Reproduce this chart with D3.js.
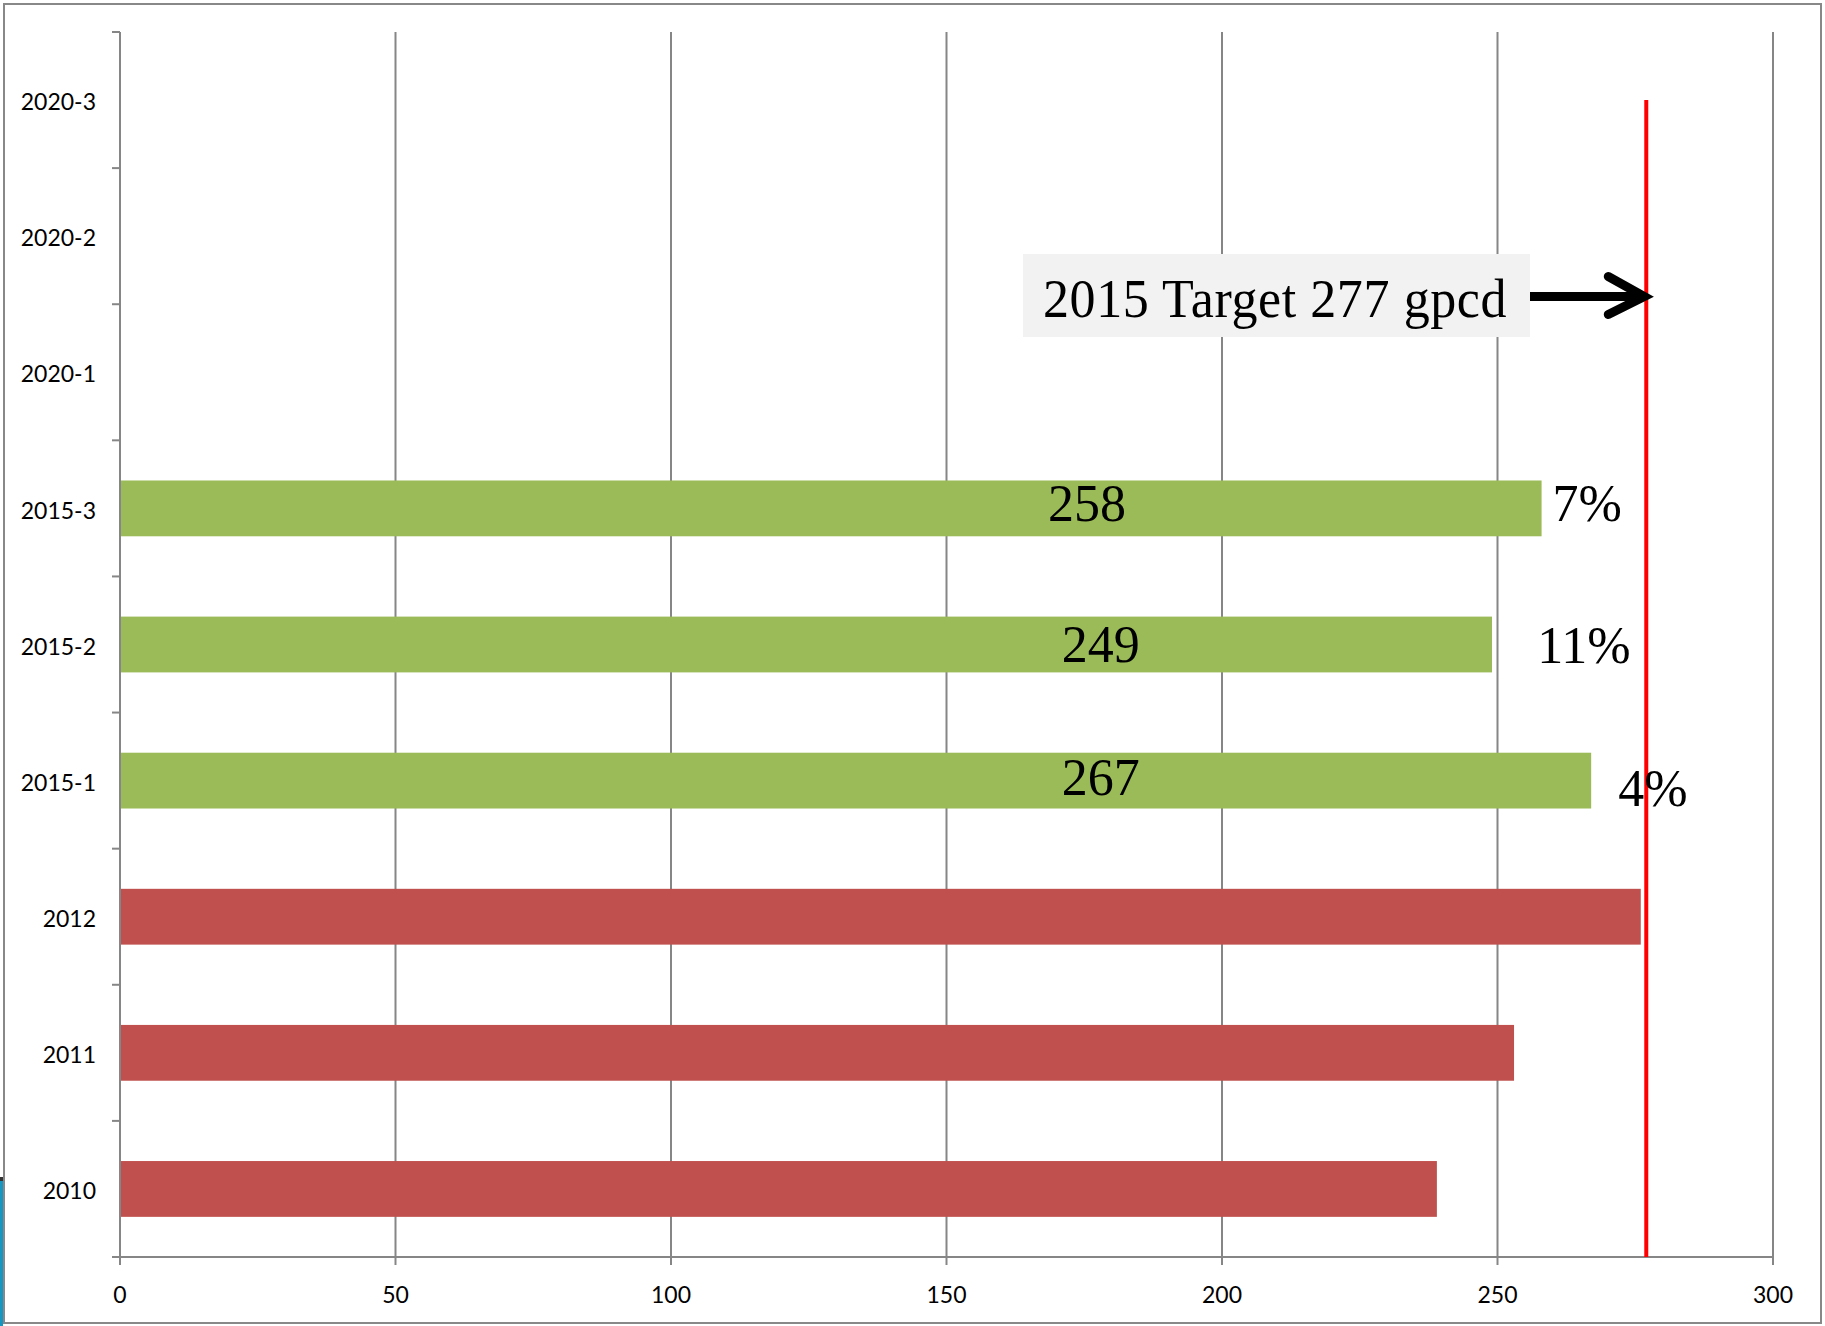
<!DOCTYPE html>
<html>
<head>
<meta charset="utf-8">
<script src="https://cdn.jsdelivr.net/npm/d3@7"></script>
<style>
  html, body { margin: 0; padding: 0; background: #fff; }
  svg { display: block; }
</style>
</head>
<body>
<script>
// ---- data ----
const categories = ["2020-3", "2020-2", "2020-1", "2015-3", "2015-2", "2015-1", "2012", "2011", "2010"];
const values     = [null, null, null, 258, 249, 267, 276, 253, 239];
const seriesGroup = ["future", "future", "future", "target", "target", "target", "actual", "actual", "actual"];
const valueLabels = [null, null, null, "258", "249", "267", null, null, null];
const pctLabels   = [null, null, null, "7%", "11%", "4%", null, null, null];
const xTicks = [0, 50, 100, 150, 200, 250, 300];
const targetValue = 277;
const targetText = "2015 Target 277 gpcd";

// ---- layout ----
const W = 1825, H = 1326;
const plot = { left: 120, right: 1773, top: 32, bottom: 1257 };
const colors = { target: "#9BBB59", actual: "#C0504D", future: "none" };
const gridColor = "#868686";

const svg = d3.select("body").append("svg").attr("width", W).attr("height", H);

// outer frame
svg.append("rect").attr("x", 4).attr("y", 4).attr("width", W - 8).attr("height", H - 7)
  .attr("fill", "#fff").attr("stroke", "#888").attr("stroke-width", 2);
// small teal artifact at bottom-left edge
svg.append("rect").attr("x", 0).attr("y", 1177).attr("width", 3).attr("height", H - 1177).attr("fill", "#1597c2");
svg.append("rect").attr("x", 0).attr("y", 1177).attr("width", 3).attr("height", 4).attr("fill", "#333");

const x = d3.scaleLinear().domain([0, 300]).range([plot.left, plot.right]);
const y = d3.scaleBand().domain(categories).range([plot.top, plot.bottom])
  .paddingInner(0.59).paddingOuter(0.295);
const step = y.step();

// vertical gridlines
svg.append("g").selectAll("line").data(xTicks.filter(d => d > 0)).join("line")
  .attr("x1", d => x(d)).attr("x2", d => x(d))
  .attr("y1", plot.top).attr("y2", plot.bottom)
  .attr("stroke", gridColor).attr("stroke-width", 2);

// bars
const rows = categories.map((c, i) => ({ c, v: values[i], g: seriesGroup[i], vl: valueLabels[i], pl: pctLabels[i] }));
svg.append("g").selectAll("rect").data(rows.filter(d => d.v != null)).join("rect")
  .attr("x", x(0) + 1)
  .attr("y", d => y(d.c))
  .attr("width", d => x(d.v) - x(0) - 1)
  .attr("height", y.bandwidth())
  .attr("fill", d => colors[d.g]);

// y axis line and ticks (ticks at band boundaries)
const yAxisG = svg.append("g");
yAxisG.append("line").attr("x1", x(0)).attr("x2", x(0)).attr("y1", plot.top).attr("y2", plot.bottom)
  .attr("stroke", gridColor).attr("stroke-width", 2);
yAxisG.selectAll("line.tk").data(d3.range(categories.length + 1)).join("line").attr("class", "tk")
  .attr("x1", x(0) - 8).attr("x2", x(0))
  .attr("y1", i => plot.top + i * step).attr("y2", i => plot.top + i * step)
  .attr("stroke", gridColor).attr("stroke-width", 2);
yAxisG.selectAll("text").data(categories).join("text")
  .attr("x", 96)
  .attr("y", c => y(c) + y.bandwidth() / 2)
  .attr("dy", "0.44em")
  .attr("text-anchor", "end")
  .attr("font-family", "Lato, 'Open Sans', sans-serif")
  .attr("font-size", 23)
  .attr("fill", "#000")
  .text(c => c);

// x axis
const xAxisG = svg.append("g");
xAxisG.append("line").attr("x1", x(0) - 8).attr("x2", x(300)).attr("y1", plot.bottom).attr("y2", plot.bottom)
  .attr("stroke", gridColor).attr("stroke-width", 2);
xAxisG.selectAll("line.tk").data(xTicks).join("line").attr("class", "tk")
  .attr("x1", d => x(d)).attr("x2", d => x(d))
  .attr("y1", plot.bottom).attr("y2", plot.bottom + 8)
  .attr("stroke", gridColor).attr("stroke-width", 2);
xAxisG.selectAll("text").data(xTicks).join("text")
  .attr("x", d => x(d))
  .attr("y", 1303)
  .attr("text-anchor", "middle")
  .attr("font-family", "Lato, 'Open Sans', sans-serif")
  .attr("font-size", 23)
  .attr("fill", "#000")
  .text(d => d);

// target red line
svg.append("line")
  .attr("x1", x(targetValue)).attr("x2", x(targetValue))
  .attr("y1", y(categories[0]) + y.bandwidth() / 2).attr("y2", plot.bottom)
  .attr("stroke", "#FF0000").attr("stroke-width", 4);

// value labels inside bars and percentages (annotation placement)
const serif = "'Liberation Serif', 'Times New Roman', serif";
const valueLabelLayout = { "258": [175.5, 12.5], "249": [178, 17.5], "267": [178, 14] };
const pctLabelLayout = { "7%": [260, 12.5], "11%": [257.2, 18], "4%": [271.9, 25] };
const center = c => y(c) + y.bandwidth() / 2;

svg.append("g").selectAll("text").data(rows.filter(d => d.vl)).join("text")
  .attr("x", d => x(valueLabelLayout[d.vl][0]))
  .attr("y", d => center(d.c) + valueLabelLayout[d.vl][1])
  .attr("text-anchor", "middle")
  .attr("font-family", serif).attr("font-size", 52).attr("fill", "#000")
  .text(d => d.vl);

svg.append("g").selectAll("text").data(rows.filter(d => d.pl)).join("text")
  .attr("x", d => x(pctLabelLayout[d.pl][0]))
  .attr("y", d => center(d.c) + pctLabelLayout[d.pl][1])
  .attr("text-anchor", "start")
  .attr("font-family", serif).attr("font-size", 52).attr("fill", "#000")
  .text(d => d.pl);

// annotation box with arrow
const ann = svg.append("g");
ann.append("rect").attr("x", 1023).attr("y", 254).attr("width", 507).attr("height", 83).attr("fill", "#F2F2F2");
ann.append("text")
  .attr("transform", "translate(1043,317) scale(1,1.05)")
  .attr("font-family", serif).attr("font-size", 52).attr("fill", "#000")
  .attr("letter-spacing", 0.6)
  .text(targetText);
const arrowY = 296.5;
const tipX = x(targetValue);
ann.append("line").attr("x1", 1530).attr("x2", tipX - 4).attr("y1", arrowY).attr("y2", arrowY)
  .attr("stroke", "#000").attr("stroke-width", 9);
ann.append("path")
  .attr("d", `M${tipX - 38},${arrowY - 20} L${tipX - 2},${arrowY} L${tipX - 38},${arrowY + 18}`)
  .attr("fill", "none").attr("stroke", "#000").attr("stroke-width", 9)
  .attr("stroke-linecap", "round").attr("stroke-linejoin", "miter");
</script>
</body>
</html>
